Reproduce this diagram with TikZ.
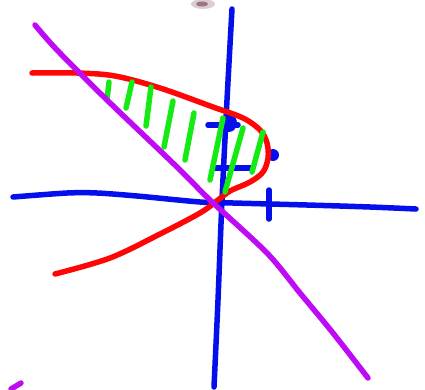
\documentclass[tikz,border=0pt]{standalone}
\definecolor{penblue}{RGB}{5,15,235}
\definecolor{penred}{RGB}{255,5,5}
\definecolor{pengreen}{RGB}{20,235,20}
\definecolor{penpurple}{RGB}{190,10,245}
\definecolor{smudge}{RGB}{110,60,80}
\tikzset{
  pen/.style={line width=5.5pt, line cap=round, line join=round},
  bluepen/.style={pen, penblue},
  redpen/.style={pen, penred},
  greenpen/.style={pen, pengreen},
  purplepen/.style={pen, penpurple},
}
\begin{document}
\begin{tikzpicture}[x=1pt,y=-1pt]
\useasboundingbox (0,0) rectangle (425,389);
% smudge at top
\fill[smudge, opacity=0.25] (203,4) ellipse (12 and 5);
\fill[smudge, opacity=0.6] (202,4) ellipse (6 and 2.5);
% axes
\draw[bluepen] plot[smooth, tension=0.5] coordinates {(232,9) (227,100) (222,200) (218,300) (214,387)};
\draw[bluepen] plot[smooth, tension=0.5] coordinates {(13,197) (67,193) (97,193) (137,196) (200,202) (233,203) (307,205) (370,207) (416,209)};
% ticks
\draw[bluepen] (269,190) -- (269,219);
\draw[bluepen] (213,168) -- (252,168);
\draw[bluepen] (208,125) -- (238,125);
\fill[penblue] (229,123) ellipse (8 and 9);
\fill[penblue] (273,155) circle (6);
% red parabola
\draw[redpen] plot[smooth, tension=0.55] coordinates {(32,73) (77,73) (115,76) (160,88) (213,107) (243,118) (260,130) (267,143) (268,158) (263,172) (250,182) (230,191) (218,200) (200,213) (160,234) (110,258) (55,274)};
% green hatching
\draw[greenpen] (109,82) -- (107,100);
\draw[greenpen] (132,82) -- (126,108);
\draw[greenpen] (151,87) -- (146,126);
\draw[greenpen] (173,101) -- (164,147);
\draw[greenpen] (194,113) -- (185,160);
\draw[greenpen] (223,118) -- (210,180);
\draw[greenpen] (243,128) -- (225,192);
\draw[greenpen] (263,132) -- (252,172);
% purple line
\draw[purplepen] plot[smooth, tension=0.5] coordinates {(35,25) (57,50) (107,100) (177,167) (210,200) (267,253) (300,293) (333,333) (368,378)};
\draw[purplepen] (11,389) -- (21,383);
\end{tikzpicture}
\end{document}
